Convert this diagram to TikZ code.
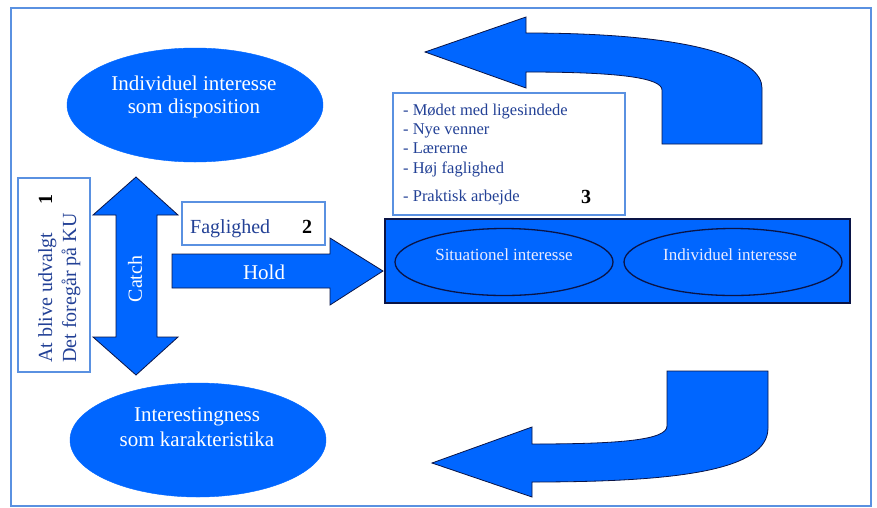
\documentclass[tikz,border=0pt]{standalone}
\usepackage{fontspec}
\setmainfont{Liberation Serif}
\usetikzlibrary{shapes.geometric}
\definecolor{shapeblue}{RGB}{0,102,255}
\definecolor{edgenavy}{RGB}{10,20,70}
\definecolor{frameblue}{RGB}{90,145,225}
\definecolor{textblue}{RGB}{35,65,150}
\begin{document}
\begin{tikzpicture}[x=1pt,y=-1pt,
  bigoval/.style={ellipse, fill=shapeblue, draw=shapeblue, minimum width=256pt, minimum height=114pt, inner sep=0pt},
  smalloval/.style={ellipse, draw=edgenavy, line width=1.3pt, minimum width=218pt, minimum height=67pt, inner sep=0pt},
  bluearrow/.style={fill=shapeblue, draw=edgenavy, line width=0.8pt, line join=miter},
  notebox/.style={draw=frameblue, line width=1.2pt, fill=white, inner sep=0pt},
  whitetxt/.style={text=white, inner sep=0pt},
  bluetxt/.style={text=textblue, inner sep=0pt},
  numtxt/.style={text=black, inner sep=0pt, font=\fontsize{20}{24}\selectfont\bfseries},
]
\useasboundingbox (0,0) rectangle (877,507);
\fill[white] (0,0) rectangle (877,507);
\draw[frameblue, line width=1.5pt] (11,8) rectangle (871,506);

% ovals on the left
\node[bigoval] (disp) at (195,105) {};
\node[whitetxt, anchor=base, font=\fontsize{21}{24}\selectfont] (disp1) at (194,90) {Individuel interesse};
\node[whitetxt, anchor=base, font=\fontsize{21}{24}\selectfont] (disp2) at (194,113) {som disposition};

\node[bigoval] (karak) at (198,440) {};
\node[whitetxt, anchor=base, font=\fontsize{21}{24}\selectfont] (karak1) at (197,421) {Interestingness};
\node[whitetxt, anchor=base, font=\fontsize{21}{24}\selectfont] (karak2) at (197,446) {som karakteristika};

% box 1
\node[notebox, minimum width=72pt, minimum height=194pt] (box1) at (54,275) {};
\node[bluetxt, rotate=90, anchor=base west, font=\fontsize{20}{24}\selectfont] (box1a) at (52,363) {At blive udvalgt};
\node[numtxt, rotate=90, anchor=base west] (box1n) at (52,205) {1};
\node[bluetxt, rotate=90, anchor=base west, font=\fontsize{20}{24}\selectfont] (box1b) at (76,363) {Det foregår på KU};

% catch double arrow
\draw[bluearrow] (136,177) -- (178,215) -- (157,215) -- (157,337) -- (178,337) -- (136,375)
  -- (93,337) -- (116,337) -- (116,215) -- (93,215) -- cycle;
\node[whitetxt, rotate=90, font=\fontsize{20}{24}\selectfont] (catch) at (135,279) {Catch};

% box 2
\node[notebox, minimum width=143pt, minimum height=43pt] (box2) at (253.5,223.5) {};
\node[bluetxt, anchor=base west, font=\fontsize{20}{24}\selectfont] (box2t) at (190,233) {Faglighed};
\node[numtxt, anchor=base west] (box2n) at (302,233) {2};

% hold arrow
\draw[bluearrow] (172,254) -- (330,254) -- (330,238) -- (383,271) -- (330,305) -- (330,288) -- (172,288) -- cycle;
\node[whitetxt, font=\fontsize{21}{24}\selectfont] (hold) at (264,272) {Hold};

% box 3
\node[notebox, minimum width=232pt, minimum height=122pt] (box3) at (509,154) {};
\foreach \txt/\yy [count=\i] in {Mødet med ligesindede/115, Nye venner/134, Lærerne/153, Høj faglighed/173, Praktisk arbejde/201}
  \node[bluetxt, anchor=base west, font=\fontsize{16.5}{20}\selectfont] (item\i) at (403,\yy) {- \txt};
\node[numtxt] (box3n) [anchor=base west] at (581,203) {3};

% interest band
\node[fill=shapeblue, draw=edgenavy, line width=1.2pt, minimum width=465pt, minimum height=84pt, inner sep=0pt] (band) at (617.5,261) {};
\node[smalloval] (sit) at (504,262) {};
\node[smalloval] (ind) at (733,262) {};
\node[text=white!92!blue, anchor=base, inner sep=0pt, font=\fontsize{17}{20}\selectfont] (sitt) at (504,260) {Situationel interesse};
\node[text=white!92!blue, anchor=base, inner sep=0pt, font=\fontsize{17}{20}\selectfont] (indt) at (730,260) {Individuel interesse};

% curved return arrows
\draw[bluearrow] (425,52) -- (526,17) -- (526,33) .. controls (700,33) and (762,60) .. (762,88)
  -- (762,144) -- (662,144) -- (662,90) .. controls (662,78) and (620,72) .. (526,72) -- (526,88) -- cycle;
\draw[bluearrow] (432,463) -- (532,427) -- (532,444) .. controls (620,444) and (667,440) .. (667,426)
  -- (667,371) -- (768,371) -- (768,428) .. controls (768,470) and (680,482) .. (532,482) -- (532,497) -- cycle;
\end{tikzpicture}
\end{document}
